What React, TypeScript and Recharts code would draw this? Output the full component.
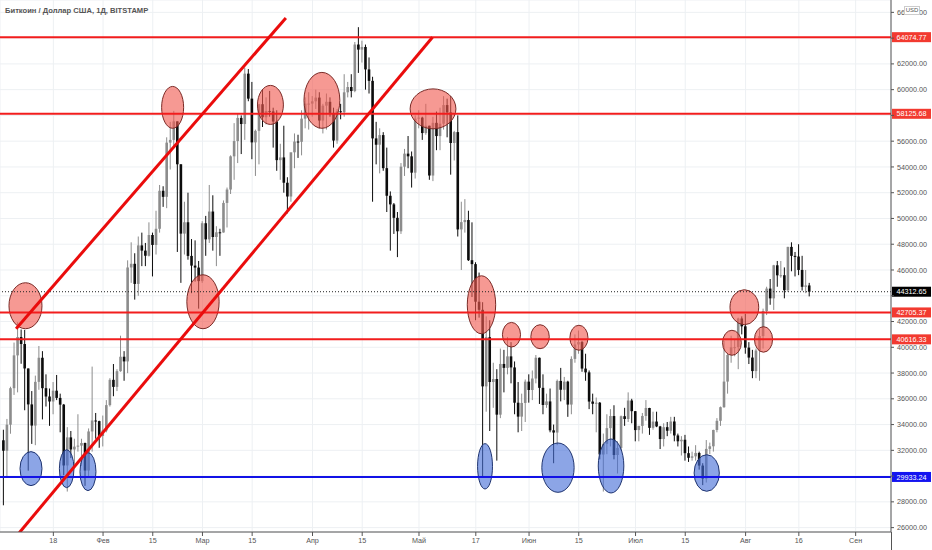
import React from 'react'
import { ComposedChart, Bar, XAxis, YAxis, CartesianGrid, ReferenceLine, ReferenceArea } from 'recharts'

// daily candles, [open, high, low, close]
const jan = [
  [32780, 33600, 27734, 31971], [31971, 34437, 29900, 33992], [33992, 36939, 33288, 36824],
  [36824, 40365, 36300, 39371], [39371, 41950, 36500, 40797], [40797, 41380, 38720, 40254],
  [40254, 41350, 35111, 38356], [38356, 38356, 30420, 35566], [35566, 36600, 32500, 33922],
  [33922, 37800, 32400, 37316], [37316, 40100, 36700, 39187], [39187, 39700, 34400, 36825],
  [36825, 37900, 35400, 36178], [36178, 36800, 33900, 35792], [35792, 37300, 34800, 36630],
  [36630, 37850, 35900, 36069], [36069, 36400, 33400, 35548], [35548, 35600, 30071, 30825],
  [30825, 33800, 28800, 33005], [33005, 33500, 31400, 32067], [32067, 32900, 30900, 32289],
  [32289, 34800, 31900, 32366], [32366, 32900, 30800, 32569], [32569, 32600, 29241, 30432],
  [30432, 33700, 29900, 33466], [33466, 38500, 31900, 34316], [34316, 34900, 32900, 34269],
  [34269, 34300, 32200, 33114],
]
const feb = [
  [33114, 34700, 32300, 33537], [33537, 35900, 33400, 35510], [35510, 37600, 35400, 37473],
  [37473, 38700, 36200, 36926], [36926, 38300, 36600, 38144], [38144, 40900, 38100, 39266],
  [39266, 39700, 37400, 38903], [38903, 46750, 37990, 46196], [46196, 48150, 45000, 46481],
  [46481, 47300, 43700, 44919], [44919, 48600, 44000, 47909], [47909, 48900, 46300, 47504],
  [47504, 48100, 46300, 47105], [47105, 49700, 47050, 48717], [48717, 48900, 45500, 47945],
  [47945, 50600, 47200, 49199], [49199, 52600, 48900, 52149], [52149, 52500, 50900, 51679],
  [51679, 56300, 50800, 55888], [55888, 57500, 53800, 56099], [56099, 58350, 55500, 57539],
  [57539, 57539, 47400, 54207], [54207, 54207, 45000, 48824], [48824, 51300, 47200, 49705],
  [49705, 52000, 46800, 47093], [47093, 48400, 44200, 46339], [46339, 48300, 45100, 46188],
  [46188, 46700, 43000, 45137],
]
const mar = [
  [45137, 49790, 45000, 49631], [49631, 50200, 47100, 48378], [48378, 52600, 48100, 50538],
  [50538, 51800, 47500, 48561], [48561, 49400, 46300, 48927], [48927, 49200, 47100, 48912],
  [48912, 51400, 48900, 51206], [51206, 52400, 49300, 52246], [52246, 54900, 51900, 54824],
  [54824, 57400, 53000, 56008], [56008, 58100, 54300, 57805], [57805, 58000, 55000, 57332],
  [57332, 61700, 56100, 61243], [61243, 61600, 59100, 59302], [59302, 60600, 54600, 55907],
  [55907, 56900, 53300, 56804], [56804, 58900, 54200, 58870], [58870, 60000, 57100, 57858],
  [57858, 59400, 57300, 58346], [58346, 59900, 57900, 58313], [58313, 58600, 55500, 57523],
  [57523, 58400, 53700, 54529], [54529, 55800, 53000, 54738], [54738, 57200, 52000, 52774],
  [52774, 53200, 50400, 51704], [51704, 55100, 51300, 55137], [55137, 56600, 53900, 55973],
  [55973, 56500, 54700, 55950], [55950, 58400, 54900, 57750], [57750, 59400, 57000, 58917],
  [58917, 59800, 56900, 58918],
]
const apr = [
  [58918, 59500, 57900, 59095], [59095, 60000, 58500, 59384], [59384, 59800, 57000, 57603],
  [57603, 58900, 56600, 58758], [58758, 59700, 56900, 59057], [59057, 59400, 57900, 58192],
  [58192, 58600, 55500, 56048], [56048, 58500, 55800, 58323], [58323, 58900, 57700, 58245],
  [58245, 61200, 57900, 59793], [59793, 60600, 59400, 60204], [60204, 61200, 59400, 59893],
  [59893, 63700, 59800, 63503], [63503, 64850, 61300, 63109], [63109, 63800, 62100, 63314],
  [63314, 63500, 60000, 61572], [61572, 62500, 59700, 60683], [60683, 61000, 51300, 56216],
  [56216, 57500, 54200, 55724], [55724, 57000, 53500, 56473], [56473, 56700, 53700, 53906],
  [53906, 55500, 50500, 51762], [51762, 52100, 47500, 51093], [51093, 51200, 48800, 50050],
  [50050, 50500, 47000, 49004], [49004, 54300, 48800, 54021], [54021, 55400, 53300, 55033],
  [55033, 56400, 53900, 54824], [54824, 55200, 52400, 53555], [53555, 58000, 53100, 57750],
]
const may = [
  [57750, 58400, 57000, 57828], [57828, 57900, 56100, 56631], [56631, 58900, 56500, 57200],
  [57200, 57200, 53000, 53333], [53333, 57900, 52900, 57424], [57424, 58300, 55300, 56396],
  [56396, 58600, 55300, 57356], [57356, 59500, 56900, 58803], [58803, 59300, 56300, 58232],
  [58232, 59500, 53400, 55859], [55859, 56800, 54500, 56704], [56704, 58000, 48600, 49150],
  [49150, 51300, 46000, 49716], [49716, 51500, 48900, 49880], [49880, 50600, 46700, 46760],
  [46760, 49700, 43900, 46456], [46456, 46600, 42100, 43537], [43537, 45800, 42300, 42909],
  [42909, 43500, 30000, 36964], [36964, 42400, 35000, 40784], [40784, 42100, 33500, 37304],
  [37304, 38800, 35300, 37536], [37536, 38300, 31200, 34770], [34770, 39900, 34500, 38705],
  [38705, 39800, 36500, 38402], [38402, 40800, 37900, 39294], [39294, 40400, 37200, 38436],
  [38436, 38900, 34800, 35697], [35697, 37300, 33400, 34616], [34616, 36400, 33500, 35678],
  [35678, 37500, 34200, 37332],
]
const jun = [
  [37332, 37900, 35700, 36684], [36684, 38200, 35900, 37575], [37575, 39400, 37200, 39187],
  [39187, 39200, 35600, 36851], [36851, 37900, 34800, 35520], [35520, 36400, 35300, 35796],
  [35796, 36800, 33400, 33552], [33552, 34000, 31000, 33380], [33380, 37500, 32400, 37389],
  [37389, 38400, 35800, 36702], [36702, 37700, 35900, 37334], [37334, 37400, 34600, 35552],
  [35552, 39300, 34800, 39097], [39097, 41000, 38800, 40218], [40218, 41300, 39500, 40406],
  [40406, 40500, 38100, 38347], [38347, 39500, 37400, 38053], [38053, 38200, 35200, 35787],
  [35787, 36400, 34800, 35615], [35615, 36100, 33400, 35698], [35698, 35750, 31300, 31676],
  [31676, 33300, 28800, 32505], [32505, 34800, 31700, 33723], [33723, 35200, 32300, 34662],
  [34662, 35500, 31300, 31637], [31637, 32700, 30200, 32186], [32186, 34700, 32000, 34649],
  [34649, 35300, 33900, 34434], [34434, 36500, 34200, 35867], [35867, 36000, 34100, 35040],
]
const jul = [
  [35040, 35050, 32700, 33572], [33572, 33900, 32700, 33897], [33897, 34900, 33300, 34668],
  [34668, 35900, 34300, 35287], [35287, 35300, 33200, 33746], [33746, 35000, 33600, 34235],
  [34235, 35000, 33800, 33855], [33855, 33900, 32100, 32877], [32877, 34100, 32300, 33798],
  [33798, 34200, 33100, 33520], [33520, 34600, 33300, 34240], [34240, 34600, 32700, 33155],
  [33155, 33300, 32300, 32702], [32702, 33100, 31600, 32822], [32822, 33200, 31200, 31780],
  [31780, 32300, 31100, 31421], [31421, 31900, 31200, 31533], [31533, 32400, 31200, 31796],
  [31796, 31900, 30500, 30817], [30817, 31000, 29300, 29807], [29807, 32800, 29500, 32110],
  [32110, 32600, 31700, 32313], [32313, 33600, 31900, 33581], [33581, 34500, 33400, 34292],
  [34292, 35400, 33900, 35350], [35350, 40500, 35300, 37337], [37337, 39500, 36400, 39406],
  [39406, 40900, 38800, 39995], [39995, 40600, 39300, 40008], [40008, 42300, 38300, 42235],
  [42235, 42400, 41000, 41626],
]
const aug = [
  [41626, 42600, 39500, 39974], [39974, 40400, 38700, 39201], [39201, 39800, 37600, 38152],
  [38152, 39900, 37600, 39747], [39747, 41400, 37400, 40869], [40869, 43000, 39900, 42816],
  [42816, 44700, 42500, 44555], [44555, 45300, 43300, 43798], [43798, 46400, 42900, 46365],
  [46365, 46700, 44700, 45585], [45585, 46700, 45400, 45593], [45593, 46200, 43800, 44428],
  [44428, 47800, 44300, 47793], [47793, 48150, 45900, 47096], [47096, 47400, 45500, 47047],
  [47047, 48000, 45600, 46004], [46004, 47100, 44400, 44695], [44695, 46000, 44200, 44801],
  [44801, 45000, 43950, 44312.65],
]
// day of year (0 = 1 Jan) of the first candle in each month list
const monthFirstDay = [3, 31, 59, 90, 120, 151, 181, 212]

const dayTicks = [17, 31, 45, 59, 73, 90, 104, 120, 136, 151, 165, 181, 195, 212, 227, 243]
const dayLabels = ['18', 'Фев', '15', 'Мар', '15', 'Апр', '15', 'Май', '17', 'Июн', '15', 'Июл', '15', 'Авг', '16', 'Сен']
const priceTicks = [26000, 28000, 30000, 32000, 34000, 36000, 38000, 40000, 42000, 44000, 46000,
  48000, 50000, 52000, 54000, 56000, 58000, 60000, 62000, 64000, 66000]
// labels TradingView hides under the price badges
const hiddenPriceLabels = [30000, 44000, 58000, 64000]

const redLevels = [64074.77, 58125.68, 42705.37, 40616.33]
const blueLevel = 29933.24
const lastPrice = 44312.65

const channelUpper = [{ x: 6.5, y: 41440 }, { x: 82.5, y: 65570 }]
const channelLower = [{ x: 7.4, y: 25600 }, { x: 123.8, y: 64074.77 }]

// marked zones: [dayFrom, dayTo, priceLow, priceHigh]
const redZones = [
  [4.5, 13.8, 41440, 45010], [47.5, 53.7, 57000, 60250], [54.6, 63.7, 41440, 45630],
  [74.5, 81.8, 57300, 60330], [87.6, 97.7, 57000, 61340], [117.5, 130.4, 56960, 60060],
  [133.6, 141.6, 41050, 45550], [143.5, 148.6, 40020, 41930], [151.5, 156.7, 39890, 41750],
  [162.5, 167.6, 39770, 41710], [207.6, 215.7, 41750, 44470], [205.5, 210.8, 39380, 41320],
  [214.5, 219.6, 39620, 41600],
]
const blueZones = [
  [7.6, 13.8, 29260, 31900], [18.7, 22.8, 29100, 32050], [24.5, 29.0, 28870, 31820],
  [136.5, 140.7, 29000, 32520], [154.6, 163.7, 28740, 32570], [170.5, 177.7, 28690, 32880],
  [197.5, 204.6, 28820, 31660],
]

const candles = [jan, feb, mar, apr, may, jun, jul, aug].flatMap((rows, m) =>
  rows.map((r, i) => ({
    day: monthFirstDay[m] + i,
    open: r[0],
    high: r[1],
    low: r[2],
    close: r[3],
    range: [r[2], r[1]],
  }))
)

const FONT = '"Liberation Sans", Arial, sans-serif'

function Candle(props: any) {
  const { x, y, width, height, payload } = props
  if (!payload || height == null) return null
  const top = Math.min(y, y + height)
  const h = Math.abs(height)
  const k = h / (payload.high - payload.low || 1)
  const up = payload.close >= payload.open
  const color = up ? '#8c8c8c' : '#0c0c0c'
  const bodyTop = top + (payload.high - Math.max(payload.open, payload.close)) * k
  const bodyBottom = top + (payload.high - Math.min(payload.open, payload.close)) * k
  const cx = x + width / 2
  return (
    <g>
      <line x1={cx} x2={cx} y1={top} y2={top + h} stroke={color} strokeWidth={1} />
      <rect x={cx - 1.3} y={bodyTop} width={2.6} height={Math.max(bodyBottom - bodyTop, 1)} fill={color} />
    </g>
  )
}

const zone = (fill: string, stroke: string) => (p: any) => (
  <ellipse
    cx={p.x + p.width / 2}
    cy={p.y + p.height / 2}
    rx={Math.abs(p.width / 2)}
    ry={Math.abs(p.height / 2)}
    fill={fill}
    stroke={stroke}
    strokeWidth={1}
  />
)

const badge = (text: string, bg: string) => (p: any) => {
  const vb = p.viewBox || {}
  const right = (vb.x || 0) + (vb.width || 0)
  return (
    <g>
      <rect x={right + 1} y={vb.y - 5} width={39} height={10} fill={bg} />
      <text x={right + 20.5} y={vb.y} dy="0.36em" textAnchor="middle" fill="#ffffff" fontSize={7.2} fontFamily={FONT}>
        {text}
      </text>
    </g>
  )
}

function PriceTick(props: any) {
  const { x, y, payload } = props
  if (hiddenPriceLabels.includes(payload.value)) return null
  return (
    <text x={x} y={y} dy="0.36em" textAnchor="start" fill="#555" fontSize={7.2} fontFamily={FONT}>
      {Number(payload.value).toFixed(2)}
    </text>
  )
}

export default function App() {
  return (
    <div style={{ position: 'absolute', left: 0, top: 0, width: 932, height: 550, background: '#fff' }}>
      <ComposedChart width={932} height={550} data={candles} margin={{ top: 0, right: 0, bottom: 0, left: 0 }}>
        <CartesianGrid stroke="#edf0f3" strokeWidth={1} />
        <XAxis
          dataKey="day"
          type="number"
          domain={[1.97, 252.96]}
          allowDataOverflow
          ticks={dayTicks}
          interval={0}
          tickFormatter={(v: number) => dayLabels[dayTicks.indexOf(v)]}
          height={18}
          tickSize={4}
          tickMargin={2}
          axisLine={{ stroke: '#555' }}
          tickLine={{ stroke: '#555' }}
          tick={{ fontSize: 7.2, fill: '#555', fontFamily: FONT }}
        />
        <YAxis
          orientation="right"
          type="number"
          domain={[25660, 66960]}
          allowDataOverflow
          ticks={priceTicks}
          interval={0}
          width={41}
          tickSize={3}
          tickMargin={3}
          axisLine={{ stroke: '#555' }}
          tickLine={{ stroke: '#555' }}
          tick={<PriceTick />}
        />
        <Bar dataKey="range" barSize={3} shape={<Candle />} isAnimationActive={false} />
        {redZones.map((z, i) => (
          <ReferenceArea
            key={'r' + i}
            x1={z[0]}
            x2={z[1]}
            y1={z[2]}
            y2={z[3]}
            zIndex={350}
            shape={zone('rgba(240, 90, 80, 0.62)', '#7a2a26')}
          />
        ))}
        {blueZones.map((z, i) => (
          <ReferenceArea
            key={'b' + i}
            x1={z[0]}
            x2={z[1]}
            y1={z[2]}
            y2={z[3]}
            zIndex={350}
            shape={zone('rgba(70, 110, 215, 0.62)', '#1f3470')}
          />
        ))}
        <ReferenceLine
          y={lastPrice}
          stroke="#222"
          strokeWidth={1}
          strokeDasharray="1 2"
          zIndex={420}
          label={badge(lastPrice.toFixed(2), '#000000')}
        />
        {redLevels.map((v) => (
          <ReferenceLine key={v} y={v} stroke="#f21d1d" strokeWidth={2} zIndex={420} label={badge(v.toFixed(2), '#f23a30')} />
        ))}
        <ReferenceLine y={blueLevel} stroke="#1212e6" strokeWidth={2} zIndex={420} label={badge(blueLevel.toFixed(2), '#1414f0')} />
        <ReferenceLine segment={channelUpper} stroke="#ea0c0c" strokeWidth={3} ifOverflow="hidden" zIndex={430} />
        <ReferenceLine segment={channelLower} stroke="#ea0c0c" strokeWidth={3} ifOverflow="hidden" zIndex={430} />
      </ComposedChart>
      <div
        style={{
          position: 'absolute',
          left: 5,
          top: 6,
          fontFamily: FONT,
          fontSize: 7.6,
          fontWeight: 700,
          color: '#555',
          lineHeight: '10px',
          whiteSpace: 'nowrap',
        }}
      >
        Биткоин / Доллар США, 1Д, BITSTAMP
      </div>
      <div
        style={{
          position: 'absolute',
          left: 904,
          top: 6,
          width: 14,
          height: 7,
          border: '1px solid #ccc',
          background: '#fff',
          fontFamily: FONT,
          fontSize: 6,
          lineHeight: '7px',
          color: '#555',
          textAlign: 'center',
        }}
      >
        USD
      </div>
      <div style={{ position: 'absolute', left: 891, top: 532, width: 1, height: 18, background: '#555' }} />
    </div>
  )
}
